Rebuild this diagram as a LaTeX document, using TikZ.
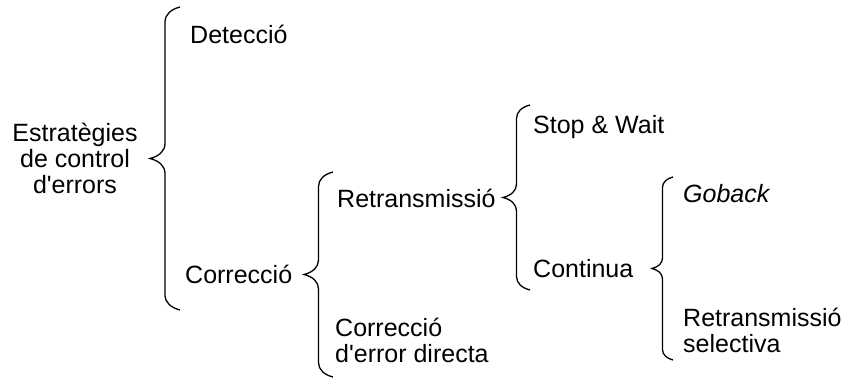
\documentclass[tikz,border=0pt]{standalone}
\usepackage{fontspec}
\setmainfont{Liberation Sans}
\usetikzlibrary{decorations.pathreplacing,positioning}

\begin{document}
\begin{tikzpicture}[
  x=1pt, y=-1pt,
  lbl/.style={inner sep=0pt, anchor=base west, align=left, font=\fontsize{25}{26}\selectfont},
  curly/.style={decorate, line width=1.3pt, decoration={brace, amplitude=#1, transform={yscale=2}}}
]
\useasboundingbox (0,0) rectangle (848,380);
% labels (multi-line ones sit on their last baseline)
\node[lbl, anchor=base, align=center] (estrat) at (75,193) {Estratègies\\de control\\d\textquotesingle errors};
\node[lbl] (detec) at (190,43) {Detecció};
\node[lbl] (correc) at (185,283) {Correcció};
\node[lbl] (retrans) at (337,207) {Retransmissió};
\node[lbl] (fec) at (335,362) {Correcció\\d\textquotesingle error directa};
\node[lbl] (stopwait) at (533,133) {Stop \& Wait};
\node[lbl] (continua) at (533,277) {Continua};
\node[lbl, font=\fontsize{25}{26}\selectfont\itshape] (goback) at (683,202) {Goback};
\node[lbl] (selectiva) at (683,352) {Retransmissió\\selectiva};
% brace ends
\coordinate (b1top) at (180,7);   \coordinate (b1bot) at (180,310);
\coordinate (b2top) at (333,172); \coordinate (b2bot) at (333,377);
\coordinate (b3top) at (530,105); \coordinate (b3bot) at (530,290);
\coordinate (b4top) at (673,177); \coordinate (b4bot) at (673,360);
% braces
\draw[curly=15pt] (b1bot) -- (b1top);
\draw[curly=14.5pt] (b2bot) -- (b2top);
\draw[curly=13.5pt] (b3bot) -- (b3top);
\draw[curly=10.5pt] (b4bot) -- (b4top);
\end{tikzpicture}
\end{document}
